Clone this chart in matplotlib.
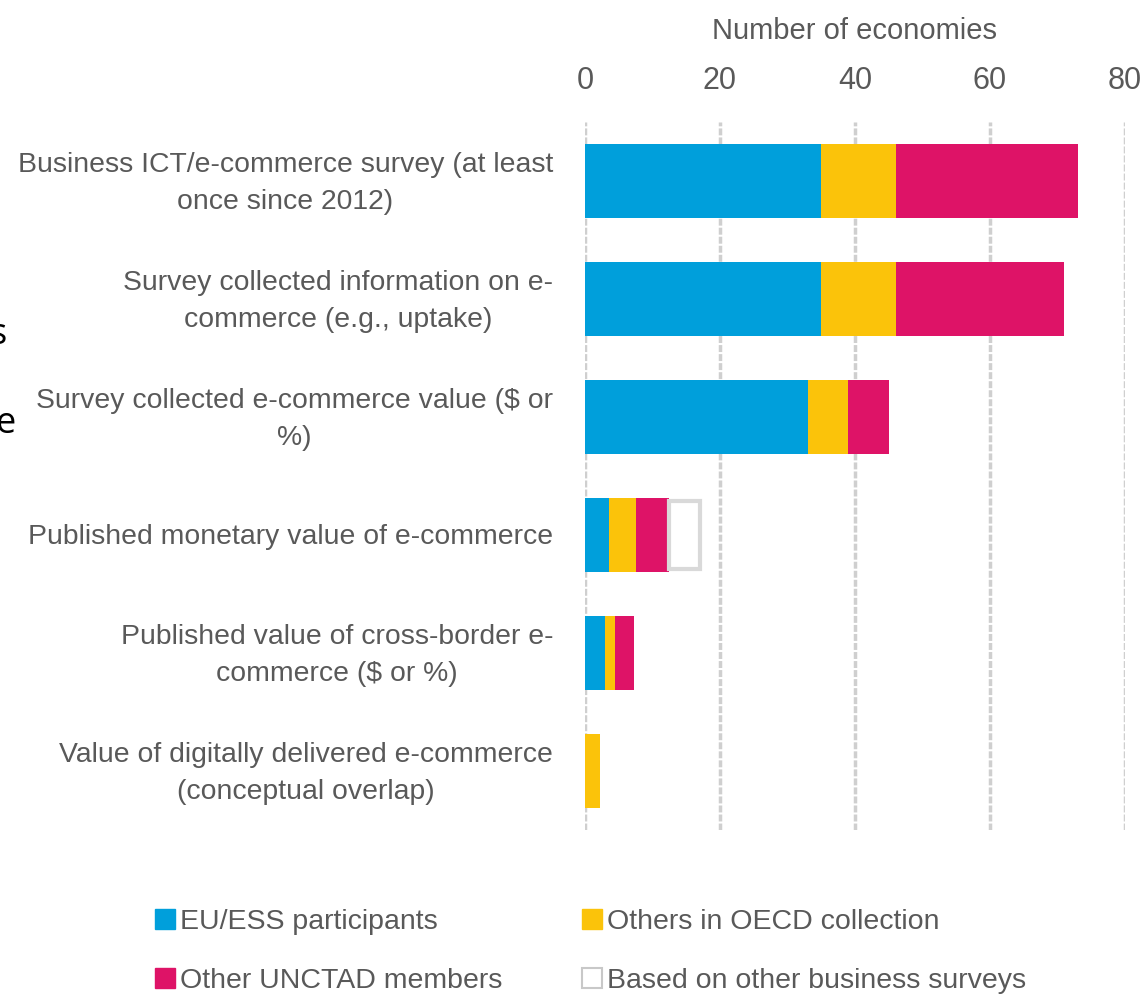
import matplotlib
matplotlib.use("Agg")
import matplotlib.pyplot as plt
import matplotlib.transforms as mtransforms
from matplotlib.patches import Patch
import numpy as np

categories = [
    "Business ICT/e-commerce survey (at least\nonce since 2012)",
    "Survey collected information on e-\ncommerce (e.g., uptake)",
    "Survey collected e-commerce value ($ or\n%)",
    "Published monetary value of e-commerce",
    "Published value of cross-border e-\ncommerce ($ or %)",
    "Value of digitally delivered e-commerce\n(conceptual overlap)",
]
eu_ess = [35, 35, 33, 3.5, 3, 0]
oecd_others = [11, 11, 6, 4, 1.5, 2.2]
unctad_others = [27, 25, 6, 5, 2.7, 0]
other_surveys = [0, 0, 0, 4.5, 0, 0]
series_names = ["EU/ESS participants", "Others in OECD collection",
                "Other UNCTAD members", "Based on other business surveys"]
x_ticks = [0, 20, 40, 60, 80]
x_label = "Number of economies"

BLUE = "#009FDB"
YELLOW = "#FBC30A"
PINK = "#DE1367"
TXT = "#595959"

plt.rcParams['font.family'] = ['Liberation Sans', 'DejaVu Sans']

fig = plt.figure(figsize=(11.47, 10.0), dpi=100)
ax = fig.add_axes([585/1147, 1 - 830/1000, 540/1147, 708/1000])

y = np.arange(len(categories))
h = 0.62
left = np.zeros(len(categories))
b1 = ax.barh(y, eu_ess, height=h, left=left, color=BLUE, zorder=3)
left = left + np.array(eu_ess)
b2 = ax.barh(y, oecd_others, height=h, left=left, color=YELLOW, zorder=3)
left = left + np.array(oecd_others)
b3 = ax.barh(y, unctad_others, height=h, left=left, color=PINK, zorder=3)
left = left + np.array(unctad_others)
vals4 = np.array(other_surveys)
b4 = ax.barh(y[vals4 > 0], vals4[vals4 > 0], height=h - 0.04, left=left[vals4 > 0],
             color="white", edgecolor="#D9D9D9", linewidth=3, zorder=3)

ax.set_xlim(0, 80)
ax.set_ylim(len(categories) - 0.5, -0.5)
ax.set_xticks(x_ticks)
ax.xaxis.tick_top()
ax.xaxis.set_label_position("top")
ax.set_xlabel(x_label, fontsize=21, color=TXT, labelpad=20)
ax.tick_params(axis='x', length=0, labelsize=22, labelcolor=TXT, pad=18.5)
ax.set_yticks(y)
ax.set_yticklabels(categories, fontsize=20.4, color=TXT, linespacing=1.57)
ax.tick_params(axis='y', length=0, pad=23)
shift = mtransforms.ScaledTranslation(0, -2.5/100, fig.dpi_scale_trans)
for lab in ax.get_yticklabels():
    lab.set_horizontalalignment('right')
    lab.set_verticalalignment('center')
    lab.set_multialignment('center')
    lab.set_transform(lab.get_transform() + shift)
for s in ax.spines.values():
    s.set_visible(False)
ax.grid(axis='x', color="#CFCFCF", linewidth=2.5, linestyle=(0, (2, 0.6)), zorder=0)
ax.set_axisbelow(True)

handles = [
    Patch(facecolor=BLUE, edgecolor=BLUE, label=series_names[0]),
    Patch(facecolor=PINK, edgecolor=PINK, label=series_names[2]),
    Patch(facecolor=YELLOW, edgecolor=YELLOW, label=series_names[1]),
    Patch(facecolor="white", edgecolor="#C8C8C8", linewidth=1.5, label=series_names[3]),
]
leg = fig.legend(handles=handles, labels=[h_.get_label() for h_ in handles],
                 ncol=2, loc='upper left', bbox_to_anchor=(155/1147, 1 - 909/1000),
                 frameon=False, fontsize=20.5, handlelength=0.7, handleheight=0.7,
                 handletextpad=0.18, columnspacing=2.8, labelspacing=1.15,
                 borderaxespad=0, borderpad=0)
for t in leg.get_texts():
    t.set_color(TXT)

# stray cropped characters at left edge of original
fig.text(-11/1147, 1 - 335/1000, "s", fontsize=26, color="black", family=['Open Sans', 'DejaVu Sans'],
         va='center', ha='left')
fig.text(-4/1147, 1 - 424/1000, "e", fontsize=26, color="black", family=['Open Sans', 'DejaVu Sans'],
         va='center', ha='left')

fig.savefig("out.png", dpi=100)
